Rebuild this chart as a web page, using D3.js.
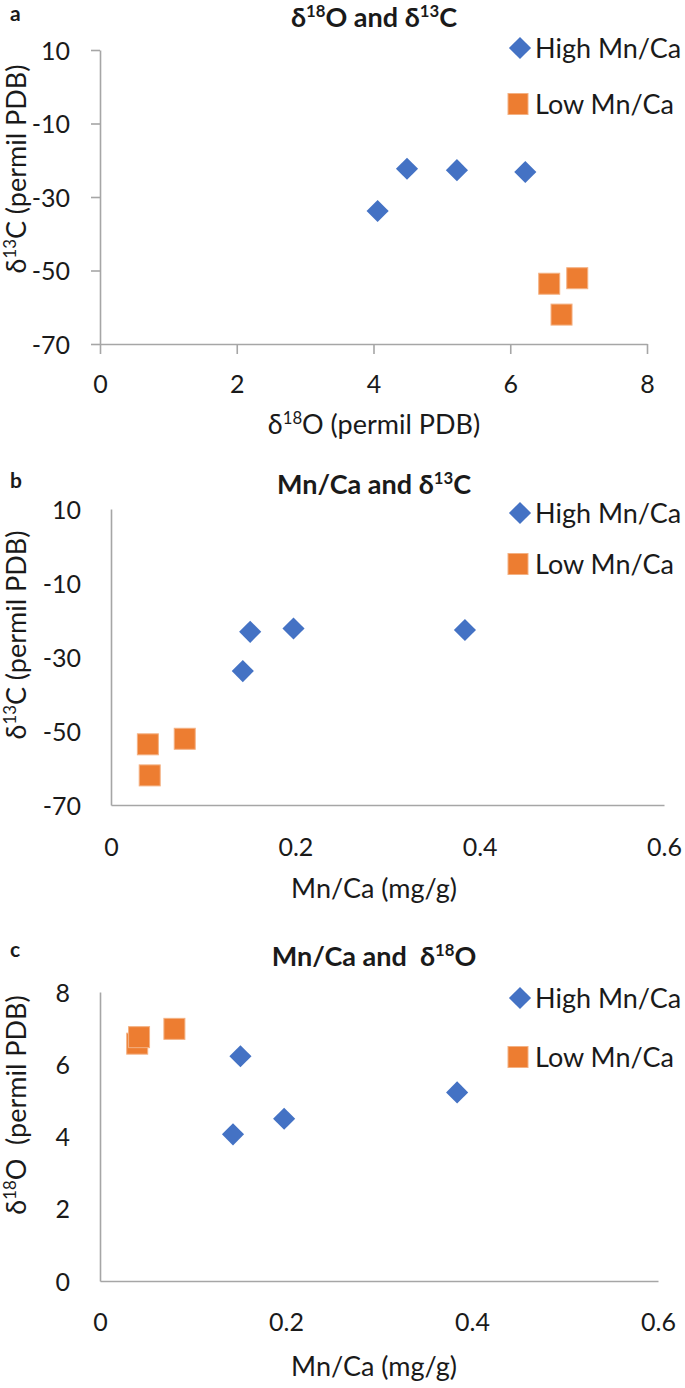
<!DOCTYPE html>
<html>
<head>
<meta charset="utf-8">
<script src="https://cdn.jsdelivr.net/npm/d3@7"></script>
<style>
  html, body { margin: 0; padding: 0; background: #fff; }
  svg text { font-family: Lato, "Open Sans", sans-serif; fill: #1a1a1a; }
</style>
</head>
<body>
<svg id="chart" width="685" height="1388"></svg>
<script>
// ---- data ----
const seriesNames = ["High Mn/Ca", "Low Mn/Ca"];
// High Mn/Ca samples
const highD18O = [4.06, 4.49, 5.22, 6.22];
const highD13C = [-33.8, -22.3, -22.7, -23.2];
const highMnCa = [0.143, 0.198, 0.384, 0.151];
// Low Mn/Ca samples
const lowD18O = [6.57, 6.98, 6.75];
const lowD13C = [-53.6, -52.1, -62.0];
const lowMnCa = [0.040, 0.080, 0.042];
// tick labels
const d13CTicks = [10, -10, -30, -50, -70];
const d18OTicks = [0, 2, 4, 6, 8];
const mnCaTicks = [0, 0.2, 0.4, 0.6];
const d18OYTicks = [0, 2, 4, 6, 8];

const BLUE = "#4472C4", ORANGE = "#ED7D31", AXIS = "#a6a6a6";
const svg = d3.select("#chart");

const pairs = (xs, ys) => xs.map((x, i) => [x, ys[i]]);
const mnFmt = d => d === 0 ? "0" : d3.format(".1f")(d);

const panels = [
  { letter: "a", title: [["δ"], ["18", true], ["O and δ"], ["13", true], ["C"]],
    xDomain: [0, 8], xRange: [100, 647], yDomain: [-70, 10], yRange: [344, 50],
    xTicks: d18OTicks, yTicks: d13CTicks, tickMarks: true, xFmt: d => String(d),
    high: pairs(highD18O, highD13C), low: pairs(lowD18O, lowD13C),
    xTitle: [["δ"], ["18", true], ["O (permil PDB)"]],
    yTitle: [["δ"], ["13", true], ["C (permil PDB)"]],
    letterY: 21, titleY: 27, xLabY: 393, xTitleY: 434, yTitleCY: 169, legY: [48, 104] },
  { letter: "b", title: [["Mn/Ca and δ"], ["13", true], ["C"]],
    xDomain: [0, 0.6], xRange: [111, 664], yDomain: [-70, 10], yRange: [805, 509],
    xTicks: mnCaTicks, yTicks: d13CTicks, tickMarks: false, xFmt: mnFmt,
    high: pairs(highMnCa, highD13C), low: pairs(lowMnCa, lowD13C),
    xTitle: [["Mn/Ca (mg/g)"]],
    yTitle: [["δ"], ["13", true], ["C (permil PDB)"]],
    letterY: 488, titleY: 494, xLabY: 856, xTitleY: 898, yTitleCY: 635, legY: [513, 564] },
  { letter: "c", title: [["Mn/Ca and \u00A0δ"], ["18", true], ["O"]],
    xDomain: [0, 0.6], xRange: [100, 658], yDomain: [0, 8], yRange: [1281, 992],
    xTicks: mnCaTicks, yTicks: d18OYTicks, tickMarks: false, xFmt: mnFmt,
    high: pairs(highMnCa, highD18O), low: pairs(lowMnCa, lowD18O),
    xTitle: [["Mn/Ca (mg/g)"]],
    yTitle: [["δ"], ["18", true], ["O \u00A0(permil PDB)"]],
    letterY: 957, titleY: 966, xLabY: 1331, xTitleY: 1376, yTitleCY: 1105, legY: [998, 1057] }
];

function richText(sel, parts, size) {
  parts.forEach(([t, sup]) => {
    const ts = sel.append("tspan").text(t);
    if (sup) ts.attr("font-size", size * 0.62).attr("baseline-shift", "super");
  });
}

const diamondPath = d3.symbol().type(d3.symbolSquare).size(245)();
const TICK_FS = 25, TITLE_FS = 27, AXT_FS = 27, LEG_FS = 27;

panels.forEach(p => {
  const x = d3.scaleLinear().domain(p.xDomain).range(p.xRange);
  const y = d3.scaleLinear().domain(p.yDomain).range(p.yRange);
  const g = svg.append("g");

  // panel letter
  g.append("text").attr("x", 10).attr("y", p.letterY)
    .attr("font-size", 21).attr("font-weight", 700).attr("fill", "#000").text(p.letter);

  // title
  const tt = g.append("text").attr("x", 374).attr("y", p.titleY)
    .attr("text-anchor", "middle").attr("font-size", TITLE_FS).attr("font-weight", 700);
  richText(tt, p.title, TITLE_FS);

  // axes
  const yAxis = d3.axisLeft(y).tickValues(p.yTicks).tickSizeOuter(0)
    .tickSizeInner(p.tickMarks ? 9 : 0).tickPadding(p.tickMarks ? 21 : 30).tickFormat(d => String(d));
  const xAxis = d3.axisBottom(x).tickValues(p.xTicks).tickSizeOuter(0)
    .tickSizeInner(p.tickMarks ? 10 : 0).tickFormat(p.xFmt);

  const gy = g.append("g").attr("transform", `translate(${p.xRange[0]},0)`).call(yAxis);
  const gx = g.append("g").attr("transform", `translate(0,${p.yRange[0]})`).call(xAxis);
  [gx, gy].forEach(a => {
    a.select(".domain").attr("stroke", AXIS).attr("stroke-width", 1.6);
    a.selectAll(".tick line").attr("stroke", AXIS).attr("stroke-width", 1.6);
    a.selectAll(".tick text").attr("font-size", TICK_FS).attr("font-family", "Lato, sans-serif").attr("fill", "#1a1a1a");
  });
  gy.selectAll(".tick text").attr("dy", "0.36em");
  gx.selectAll(".tick text").attr("dy", null).attr("y", p.xLabY - p.yRange[0]);

  // axis titles
  const xt = g.append("text").attr("x", 374).attr("y", p.xTitleY)
    .attr("text-anchor", "middle").attr("font-size", AXT_FS);
  richText(xt, p.xTitle, AXT_FS);
  const yt = g.append("text").attr("transform", `translate(26,${p.yTitleCY}) rotate(-90)`)
    .attr("text-anchor", "middle").attr("font-size", AXT_FS);
  richText(yt, p.yTitle, AXT_FS);

  // marks
  g.selectAll(".hi").data(p.high).join("path").attr("class", "hi")
    .attr("d", diamondPath)
    .attr("transform", d => `translate(${x(d[0])},${y(d[1])}) rotate(45)`)
    .attr("fill", BLUE);
  g.selectAll(".lo").data(p.low).join("rect").attr("class", "lo")
    .attr("x", d => x(d[0]) - 10.5).attr("y", d => y(d[1]) - 10.5)
    .attr("width", 21).attr("height", 21)
    .attr("fill", ORANGE).attr("stroke", "#f4b183").attr("stroke-width", 1);

  // legend
  const lg = g.append("g");
  lg.append("path").attr("d", diamondPath)
    .attr("transform", `translate(520,${p.legY[0]}) rotate(45)`).attr("fill", BLUE);
  lg.append("rect").attr("x", 508).attr("y", p.legY[1] - 10.5).attr("width", 20).attr("height", 21)
    .attr("fill", ORANGE).attr("stroke", "#f4b183");
  lg.append("text").attr("x", 535).attr("y", p.legY[0]).attr("dy", "0.36em")
    .attr("font-size", LEG_FS).text(seriesNames[0]);
  lg.append("text").attr("x", 535).attr("y", p.legY[1]).attr("dy", "0.36em")
    .attr("font-size", LEG_FS).text(seriesNames[1]);
});
</script>
</body>
</html>
